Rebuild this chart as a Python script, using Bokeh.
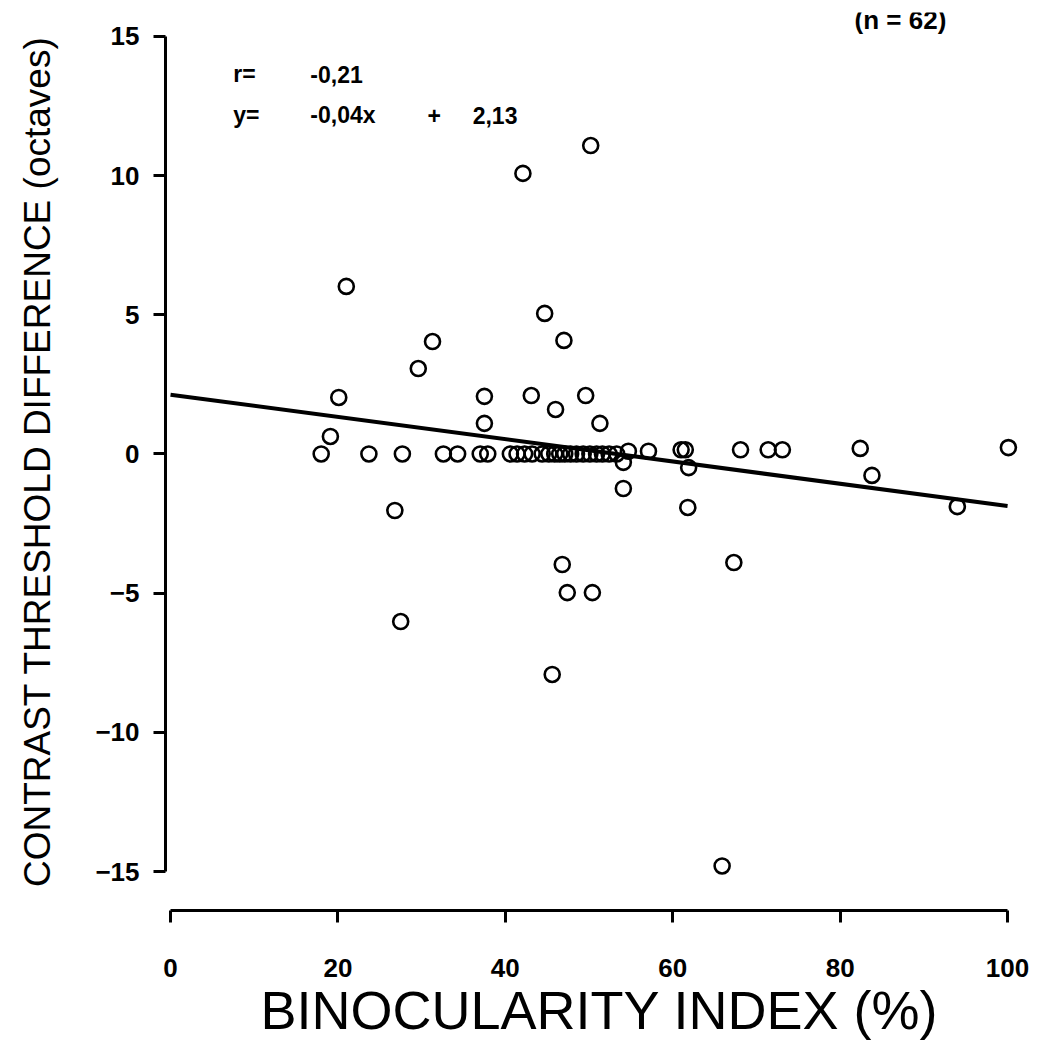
from bokeh.plotting import figure
from bokeh.models import Range1d, FixedTicker
from bokeh.core.properties import value
from bokeh.embed import file_html
from bokeh.resources import INLINE

# ---- data ----
bi_x = [18.0, 23.7, 27.7, 32.6, 34.3, 37.0, 37.9,
        40.6, 41.4, 42.3, 43.2, 44.4, 45.2, 45.9, 46.5, 47.1, 47.8, 48.5, 49.3, 50.1, 50.9, 51.6, 52.4, 53.3,
        54.7, 57.1, 61.0, 61.5, 68.1, 71.4, 73.1, 82.4,
        20.1, 19.1, 21.0, 29.6, 31.3, 37.5, 37.5, 42.1, 50.2, 43.1, 44.7, 47.0, 46.0, 49.6, 51.3,
        26.8, 27.5, 46.8, 47.4, 50.4, 45.6, 54.1, 54.1, 61.9, 61.8, 67.3, 65.9, 83.8, 94.0, 100.1]
ctd_y = [0.0, 0.0, 0.0, 0.0, 0.0, 0.0, 0.0,
         0.0, 0.0, 0.0, 0.0, 0.0, 0.0, 0.0, 0.0, 0.0, 0.0, 0.0, 0.0, 0.0, 0.0, 0.0, 0.0, 0.0,
         0.1, 0.1, 0.15, 0.15, 0.15, 0.15, 0.15, 0.2,
         2.03, 0.63, 6.02, 3.07, 4.04, 2.07, 1.1, 10.08, 11.08, 2.1, 5.05, 4.08, 1.6, 2.1, 1.1,
         -2.03, -6.02, -3.97, -4.98, -4.98, -7.92, -0.3, -1.24, -0.49, -1.92, -3.9, -14.8, -0.77, -1.89, 0.23]

fit_x = [0, 100]
fit_y = [2.13, -1.87]

x_ticks = [0, 20, 40, 60, 80, 100]
y_ticks = [-15, -10, -5, 0, 5, 10, 15]

FONT = "Liberation Sans"

p = figure(width=1040, height=1042, output_backend="svg", toolbar_location=None,
           x_range=Range1d(-0.6, 103.1), y_range=Range1d(-16.40, 15.86),
           min_border_left=165, min_border_right=7, min_border_top=12, min_border_bottom=132)

p.grid.visible = False
p.outline_line_color = None
p.background_fill_color = "white"
p.border_fill_color = "white"

# axes
for ax in (p.xaxis[0], p.yaxis[0]):
    ax.axis_line_width = 3
    ax.axis_line_color = "black"
    ax.major_tick_line_width = 3
    ax.major_tick_line_color = "black"
    ax.major_tick_in = 0
    ax.minor_tick_line_color = None
    ax.major_label_text_color = "black"
    ax.major_label_text_font = FONT
    ax.major_label_text_font_style = "bold"
    ax.axis_label_text_color = "black"
    ax.axis_label_text_font = FONT
    ax.axis_label_text_font_style = "normal"

p.xaxis.bounds = (0, 100)
p.xaxis.ticker = FixedTicker(ticks=x_ticks)
p.xaxis.major_tick_out = 12
p.xaxis.major_label_standoff = 36
p.xaxis.major_label_text_font_size = "26px"
p.xaxis.axis_label = "BINOCULARITY INDEX (%)"
p.xaxis.axis_label_text_font_size = "54px"
p.xaxis.axis_label_standoff = 0

p.yaxis.bounds = (-15, 15)
p.yaxis.ticker = FixedTicker(ticks=y_ticks)
p.yaxis.major_tick_out = 12
p.yaxis.major_label_standoff = 14
p.yaxis.major_label_text_font_size = "26px"
p.yaxis.axis_label = "CONTRAST THRESHOLD DIFFERENCE (octaves)"
p.yaxis.axis_label_text_font_size = "37px"
p.yaxis.axis_label_standoff = 34

# regression line
p.line(fit_x, fit_y, line_color="black", line_width=4)

# points
p.scatter(bi_x, ctd_y, marker="circle", size=15, line_color="black", line_width=2.6,
          fill_alpha=0)

# annotations
txt = dict(text_font=value(FONT), text_font_style="bold", text_font_size="23px",
           text_color="black", text_baseline="middle")
p.text(x=[7.5], y=[13.65], text=["r="], **txt)
p.text(x=[16.7], y=[13.65], text=["-0,21"], **txt)
p.text(x=[7.5], y=[12.16], text=["y="], **txt)
p.text(x=[16.7], y=[12.16], text=["-0,04x"], **txt)
p.text(x=[30.7], y=[12.16], text=["+"], **txt)
p.text(x=[36.1], y=[12.16], text=["2,13"], **txt)
p.text(x=[87.2], y=[15.6], text=["(n = 62)"], text_align="center",
       text_font=value(FONT), text_font_style="bold", text_font_size="26px",
       text_color="black", text_baseline="middle")

open("out.html", "w").write(file_html(p, INLINE))
